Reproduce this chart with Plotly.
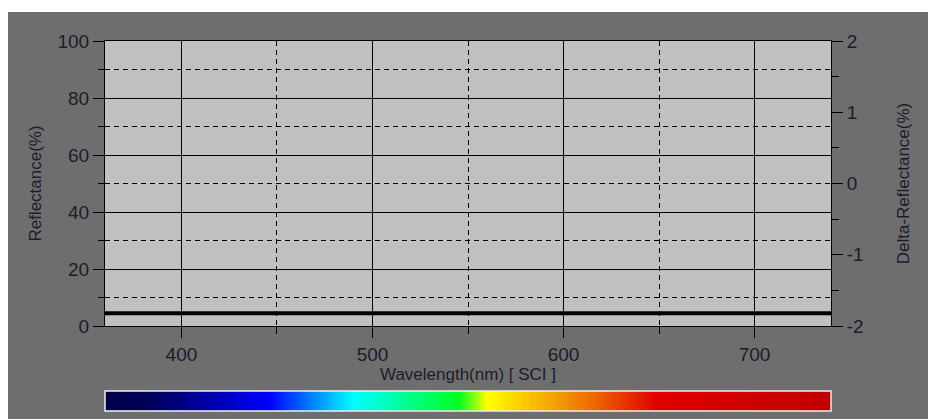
import numpy as np
import plotly.graph_objects as go

# ---- data ----
wavelengths = list(range(360, 741, 10))
reflectance = [4.5] * len(wavelengths)

# spectrum bar colour stops (wavelength nm, colour)
spectrum_wl = [360, 383, 420, 446, 490, 545, 560, 613, 649, 740]
spectrum_col = ["#000048", "#000058", "#0000b8", "#0000ff", "#00ffff",
                "#00ff20", "#ffff00", "#f07000", "#e00000", "#c00000"]

x_range = [360, 740]
y_range = [0, 100]
y2_range = [-2, 2]
y2_tickvals = [-2, -1, 0, 1, 2]
y2_ticktext = ["-2", "-1", "0", "1", "2"]

BG = "#6e6e6e"
PLOT_BG = "#c0c0c0"
TXT = "#1c1c2c"
FONT = "Liberation Sans, Arial, sans-serif"
TICK_SIZE = 19
TITLE_SIZE = 17

# page has an 8px body margin, so the figure starts at (8, 8)
W, H = 928, 411
ML, MR, MT, MB = 97, 105, 33, 8
PW = W - ML - MR
PH = H - MT - MB
plot_bottom_px = 318   # figure px (page 326)
bar_top_px = 383       # figure px (page 391)
main_dom0 = (H - MB - plot_bottom_px) / PH
bar_dom1 = (H - MB - bar_top_px) / PH

fig = go.Figure()

fig.add_trace(go.Scatter(
    x=wavelengths, y=reflectance, mode="lines",
    line=dict(color="black", width=4), xaxis="x", yaxis="y",
    showlegend=False, hoverinfo="skip"))

# spectrum bar
bar_x = np.arange(x_range[0], x_range[1] + 1, 1)
lo, hi = x_range
cscale = [[(w - lo) / (hi - lo), c] for w, c in zip(spectrum_wl, spectrum_col)]
fig.add_trace(go.Heatmap(
    x=bar_x, y=[0], z=[bar_x], colorscale=cscale, zmin=lo, zmax=hi,
    showscale=False, xaxis="x2", yaxis="y3", hoverinfo="skip"))

# invisible trace to activate right axis
fig.add_trace(go.Scatter(x=[None], y=[None], xaxis="x", yaxis="y2",
                         showlegend=False, hoverinfo="skip"))

grid_dash = "5px,4px"
fig.update_layout(
    width=W, height=H,
    margin=dict(l=ML, r=MR, t=MT, b=MB, pad=0),
    paper_bgcolor=BG, plot_bgcolor=PLOT_BG,
    font=dict(family=FONT, size=TITLE_SIZE, color=TXT),
    showlegend=False,
    xaxis=dict(
        range=x_range, domain=[0, 1], anchor="y", automargin=False,
        tick0=400, dtick=100, ticks="outside", ticklen=11, tickcolor="black",
        tickwidth=1, showgrid=True, gridcolor="black", gridwidth=1,
        showline=True, linecolor="black", linewidth=1, mirror=True,
        zeroline=False,
        minor=dict(tick0=450, dtick=100, ticks="outside", ticklen=7,
                   tickcolor="black", showgrid=True, gridcolor="black",
                   griddash=grid_dash, gridwidth=1),
        title=dict(text="Wavelength(nm) [ SCI ]", standoff=0,
                   font=dict(size=TITLE_SIZE, color=TXT)),
        tickfont=dict(size=TICK_SIZE, color=TXT),
    ),
    yaxis=dict(
        range=y_range, domain=[main_dom0, 1], anchor="x", automargin=False,
        tick0=0, dtick=20, ticks="outside", ticklen=11, tickcolor="black",
        showgrid=True, gridcolor="black", gridwidth=1,
        showline=True, linecolor="black", linewidth=1, mirror=True,
        zeroline=False,
        minor=dict(tick0=10, dtick=20, ticks="outside", ticklen=6,
                   tickcolor="black", showgrid=True, gridcolor="black",
                   griddash=grid_dash, gridwidth=1),
        title=dict(text="Reflectance(%)", standoff=11,
                   font=dict(size=TITLE_SIZE, color=TXT)),
        tickfont=dict(size=TICK_SIZE, color=TXT),
    ),
    yaxis2=dict(
        range=y2_range, overlaying="y", side="right", anchor="x",
        automargin=False,
        tickmode="array", tickvals=y2_tickvals, ticktext=y2_ticktext,
        ticks="outside", ticklen=11, tickcolor="black",
        showgrid=False, zeroline=False,
        showline=True, linecolor="black", linewidth=1,
        minor=dict(tickmode="linear", tick0=-1.5, dtick=1, ticks="outside",
                   ticklen=7, tickcolor="black", showgrid=False),
        title=dict(text="Delta-Reflectance(%)", standoff=34,
                   font=dict(size=TITLE_SIZE, color=TXT)),
        tickfont=dict(size=TICK_SIZE, color=TXT),
    ),
    xaxis2=dict(range=x_range, domain=[0, 1], anchor="y3", visible=False,
                automargin=False),
    yaxis3=dict(range=[-0.5, 0.5], domain=[0, bar_dom1], anchor="x2",
                visible=False, automargin=False),
)

# light frame of spectrum bar
fig.add_shape(type="rect", xref="x2 domain", yref="y3 domain",
              x0=0, x1=1, y0=0, y1=1, line=dict(color="#f0f0f0", width=1.5),
              fillcolor="rgba(0,0,0,0)", layer="above")

# white strip at the top of the window (page y 8..12)
def px_x(p):
    return (p - ML) / PW

def px_y(p):
    return (H - MB - p) / PH

fig.add_shape(type="rect", xref="paper", yref="paper",
              x0=px_x(0), x1=px_x(W), y0=px_y(4), y1=px_y(0),
              fillcolor="white", line=dict(width=0), layer="above")

fig.write_html("out.html")
